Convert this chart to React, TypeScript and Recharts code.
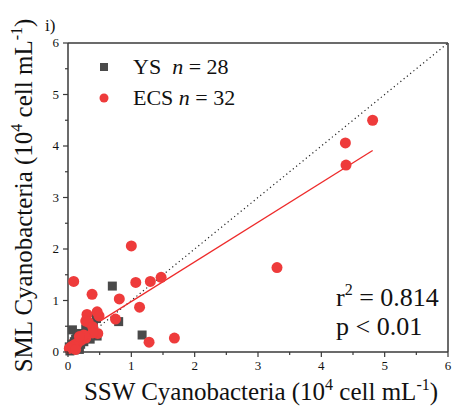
import {
  ScatterChart,
  Scatter,
  XAxis,
  YAxis,
  ReferenceLine,
} from "recharts";

const SERIF = "'Liberation Serif', 'Times New Roman', serif";

// YS samples (SSW, SML) in 10^4 cell/mL
const ysX = [0.7, 0.45, 0.8, 0.07, 1.17, 0.46, 0.18, 0.36, 0.05, 0.08, 0.1, 0.12, 0.15, 0.2, 0.22, 0.25, 0.3, 0.03, 0.06, 0.12, 0.28, 0.32, 0.4, 0.18, 0.1, 0.14, 0.35, 0.02];
const ysY = [1.28, 0.65, 0.59, 0.43, 0.33, 0.31, 0.36, 0.43, 0.05, 0.1, 0.2, 0.08, 0.12, 0.15, 0.28, 0.2, 0.35, 0.02, 0.15, 0.25, 0.45, 0.5, 0.55, 0.05, 0.04, 0.3, 0.25, 0.1];

// ECS samples
const ecsX = [1.0, 0.09, 1.07, 1.3, 1.47, 0.38, 0.81, 1.13, 0.3, 0.46, 0.49, 0.28, 0.32, 0.75, 0.39, 0.47, 0.39, 1.68, 1.28, 0.28, 0.21, 0.15, 0.1, 0.05, 0.02, 3.3, 4.81, 4.38, 4.39, 0.12, 0.25, 0.18];
const ecsY = [2.06, 1.37, 1.35, 1.37, 1.45, 1.12, 1.03, 0.87, 0.73, 0.78, 0.7, 0.6, 0.58, 0.64, 0.49, 0.36, 0.37, 0.27, 0.19, 0.27, 0.23, 0.17, 0.14, 0.1, 0.07, 1.64, 4.5, 4.06, 3.63, 0.05, 0.33, 0.3];

const ticks = [0, 0.5, 1, 1.5, 2, 2.5, 3, 3.5, 4, 4.5, 5, 5.5, 6];

// linear fit
const fitSlope = 0.77;
const fitIntercept = 0.21;
const fitXMin = 0.02;
const fitXMax = 4.81;

const ys = ysX.map((x, i) => ({ x, y: ysY[i] }));
const ecs = ecsX.map((x, i) => ({ x, y: ecsY[i] }));

const AXIS = "#3a3a3a";

const XTick = (props: any) => {
  const { x, y, payload } = props;
  const major = Number.isInteger(payload.value);
  return (
    <g>
      <line x1={x} x2={x} y1={y} y2={y + (major ? 5 : 3)} stroke={AXIS} strokeWidth={1.2} />
      {major && (
        <text x={x} y={y + 18} textAnchor="middle" fontSize={13} fontFamily={SERIF} fill="#111">
          {payload.value}
        </text>
      )}
    </g>
  );
};

const YTick = (props: any) => {
  const { x, y, payload } = props;
  const major = Number.isInteger(payload.value);
  return (
    <g>
      <line x1={x} x2={x - (major ? 5 : 3)} y1={y} y2={y} stroke={AXIS} strokeWidth={1.2} />
      {major && (
        <text x={x - 9} y={y + 4} textAnchor="end" fontSize={13} fontFamily={SERIF} fill="#111">
          {payload.value}
        </text>
      )}
    </g>
  );
};

const unitText = (prefix: string) => (
  <>
    {prefix} (10
    <tspan dy={-10} fontSize={16}>4</tspan>
    <tspan dy={10}> cell mL</tspan>
    <tspan dy={-10} fontSize={16}>-1</tspan>
    <tspan dy={10}>)</tspan>
  </>
);

const XLabel = (props: any) => {
  const { x, y, width } = props.viewBox;
  return (
    <text x={x + width / 2 + 3} y={y + 48} textAnchor="middle" fontSize={25} fontFamily={SERIF} fill="#111">
      {unitText("SSW Cyanobacteria")}
    </text>
  );
};

const YLabel = (props: any) => {
  const { y, height } = props.viewBox;
  const cx = 32;
  const cy = y + height / 2 - 2;
  return (
    <text
      x={cx}
      y={cy}
      transform={`rotate(-90 ${cx} ${cy})`}
      textAnchor="middle"
      fontSize={25}
      fontFamily={SERIF}
      fill="#111"
    >
      {unitText("SML Cyanobacteria")}
    </text>
  );
};

const legendItems = [
  { name: "YS", n: 28, color: "#4a4a4a", square: true },
  { name: "ECS", n: 32, color: "#ee3b3b", square: false },
];

export default function App() {
  return (
    <div style={{ position: "absolute", left: 0, top: 0, width: 455, height: 412, background: "#fff" }}>
      <ScatterChart width={455} height={412} margin={{ top: 43, right: 7, left: 0, bottom: 0 }}>
        <XAxis
          type="number"
          dataKey="x"
          domain={[0, 6]}
          ticks={ticks}
          interval={0}
          height={60}
          tickSize={0}
          tickMargin={0}
          tickLine={false}
          tick={<XTick />}
          stroke={AXIS}
          strokeWidth={1.5}
          label={<XLabel />}
        />
        <YAxis
          type="number"
          dataKey="y"
          domain={[0, 6]}
          ticks={ticks}
          interval={0}
          width={68}
          tickSize={0}
          tickMargin={0}
          tickLine={false}
          tick={<YTick />}
          stroke={AXIS}
          strokeWidth={1.5}
          label={<YLabel />}
        />
        <ReferenceLine y={6} stroke={AXIS} strokeWidth={1.5} />
        <ReferenceLine x={6} stroke={AXIS} strokeWidth={1.5} />
        <ReferenceLine
          segment={[{ x: 0, y: 0 }, { x: 6, y: 6 }]}
          stroke="#222"
          strokeWidth={1.2}
          strokeDasharray="1.2 3"
        />
        <Scatter
          name="YS"
          data={ys}
          fill="#4a4a4a"
          isAnimationActive={false}
          shape={(p: any) => <rect x={p.cx - 4.5} y={p.cy - 4.5} width={9} height={9} fill="#4a4a4a" />}
        />
        <Scatter
          name="ECS"
          data={ecs}
          fill="#ee3b3b"
          isAnimationActive={false}
          shape={(p: any) => <circle cx={p.cx} cy={p.cy} r={5.5} fill="#ee3b3b" />}
        />
        <ReferenceLine
          segment={[
            { x: fitXMin, y: fitIntercept + fitSlope * fitXMin },
            { x: fitXMax, y: fitIntercept + fitSlope * fitXMax },
          ]}
          stroke="#ee2a2a"
          strokeWidth={1.3}
        />
      </ScatterChart>

      {/* legend */}
      <div style={{ position: "absolute", left: 96, top: 51, fontFamily: SERIF, fontSize: 22, color: "#111" }}>
        {legendItems.map((it) => (
          <div key={it.name} style={{ display: "flex", alignItems: "center", height: 31 }}>
            <svg width={37} height={31}>
              {it.square ? (
                <rect x={4} y={12} width={8} height={8} fill={it.color} />
              ) : (
                <circle cx={8} cy={16} r={4.5} fill={it.color} />
              )}
            </svg>
            <span style={{ whiteSpace: "pre" }}>
              {it.name}
              {it.square ? "  " : " "}
              <i>n</i> = {it.n}
            </span>
          </div>
        ))}
      </div>

      <svg
        width={455}
        height={412}
        style={{ position: "absolute", left: 0, top: 0, pointerEvents: "none" }}
        fontFamily={SERIF}
        fill="#111"
      >
        <text x={45} y={31} fontSize={17}>i)</text>
        <text x={336} y={306} fontSize={26}>
          r<tspan dy={-11} fontSize={16}>2</tspan>
          <tspan dy={11}> = 0.814</tspan>
        </text>
        <text x={336} y={335} fontSize={26}>p &lt; 0.01</text>
      </svg>
    </div>
  );
}
